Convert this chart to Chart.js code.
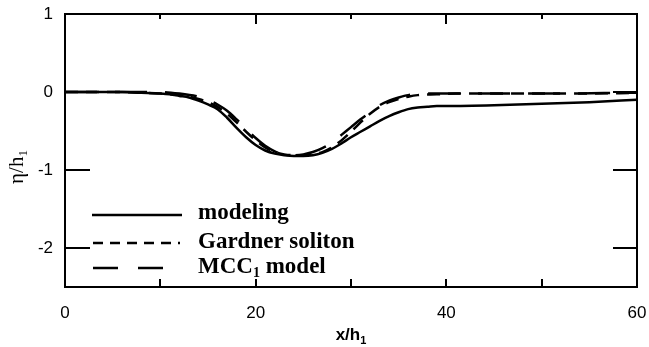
<!DOCTYPE html>
<html>
<head>
<meta charset="utf-8">
<script src="https://cdn.jsdelivr.net/npm/chart.js@4.4.1/dist/chart.umd.min.js"></script>
<style>
  html, body { margin: 0; padding: 0; background: #fff; }
  #wrap { width: 649px; height: 347px; }
</style>
</head>
<body>
<div id="wrap"><canvas id="c" width="649" height="347"></canvas></div>
<script>
// ---- data ----
const modelX = [0, 2, 4, 6, 8, 10, 11, 12, 13, 14, 15, 16, 17, 18, 19, 20, 21, 22, 23, 24, 25, 26, 27, 28, 29, 30, 31, 32, 33, 34, 35, 36, 37, 38, 39, 40, 45, 50, 55, 60];
const modelY = [0, 0, 0, 0, -0.01, -0.02, -0.03, -0.05, -0.07, -0.11, -0.16, -0.22, -0.33, -0.46, -0.58, -0.68, -0.75, -0.79, -0.81, -0.82, -0.82, -0.81, -0.78, -0.73, -0.66, -0.58, -0.51, -0.44, -0.37, -0.31, -0.26, -0.22, -0.20, -0.19, -0.18, -0.18, -0.17, -0.15, -0.13, -0.10];

const gardnerX = [0, 5, 8, 10, 12, 13, 14, 15, 16, 17, 18, 19, 20, 21, 22, 23, 24, 25, 26, 27, 28, 29, 30, 31, 32, 33, 34, 35, 36, 37, 39, 41, 44, 50, 55, 60];
const gardnerY = [0, 0, -0.01, -0.02, -0.04, -0.06, -0.09, -0.13, -0.19, -0.28, -0.39, -0.51, -0.62, -0.71, -0.77, -0.80, -0.81, -0.81, -0.80, -0.77, -0.71, -0.62, -0.51, -0.39, -0.28, -0.19, -0.13, -0.09, -0.06, -0.04, -0.03, -0.02, -0.02, -0.02, -0.02, -0.01];

const mccX = [0, 10, 12, 14, 15, 16, 17, 18, 19, 20, 21, 22, 23, 24, 25, 26, 27, 28, 29, 30, 31, 32, 33, 34, 35, 36, 37, 38, 40, 50, 60];
const mccY = [0, 0, -0.02, -0.06, -0.10, -0.16, -0.24, -0.35, -0.47, -0.59, -0.69, -0.76, -0.80, -0.81, -0.80, -0.77, -0.72, -0.65, -0.55, -0.45, -0.35, -0.26, -0.17, -0.11, -0.07, -0.04, -0.03, -0.02, -0.02, -0.02, -0.01];

const xTicks = [0, 10, 20, 30, 40, 50, 60];
const xLabelTicks = [0, 20, 40, 60];
const yTicks = [1, 0, -1, -2];
const legendLabels = ["modeling", "Gardner soliton", "MCC", " model"];

const pts = (xs, ys) => xs.map((x, i) => ({ x: x, y: ys[i] }));

const framePlugin = {
  id: 'frame',
  afterDatasetsDraw(chart) {
    const { ctx, chartArea: a, scales } = chart;
    const xs = scales.x, ys = scales.y;
    ctx.save();
    ctx.strokeStyle = '#000';
    ctx.lineWidth = 2;
    ctx.strokeRect(a.left, a.top, a.right - a.left, a.bottom - a.top);
    ctx.beginPath();
    yTicks.forEach(v => {
      if (v >= 1) return;
      const py = Math.round(ys.getPixelForValue(v));
      ctx.moveTo(a.left, py); ctx.lineTo(a.left + 25, py);
      ctx.moveTo(a.right, py); ctx.lineTo(a.right - 24, py);
    });
    xTicks.forEach(v => {
      if (v <= 0 || v >= 60) return;
      const px = Math.round(xs.getPixelForValue(v));
      ctx.moveTo(px, a.bottom); ctx.lineTo(px, a.bottom - 8);
      const tl = (v % 20 === 0) ? 10 : 5;
      ctx.moveTo(px, a.top); ctx.lineTo(px, a.top + tl);
    });
    ctx.stroke();
    ctx.restore();
  },
  afterDraw(chart) {
    const { ctx } = chart;
    ctx.save();
    ctx.fillStyle = '#000';
    ctx.strokeStyle = '#000';
    ctx.textBaseline = 'alphabetic';
    // x title
    const xf = 'bold 17px "Liberation Sans", Arial, sans-serif';
    const xfs = 'bold 11px "Liberation Sans", Arial, sans-serif';
    ctx.font = xf;
    const w1 = ctx.measureText('x/h').width;
    ctx.font = xfs;
    const w2 = ctx.measureText('1').width;
    const sx = 351 - (w1 + w2) / 2;
    ctx.font = xf;
    ctx.fillText('x/h', sx, 340);
    ctx.font = xfs;
    ctx.fillText('1', sx + w1, 344);

    // y title (rotated)
    ctx.save();
    ctx.translate(23, 167);
    ctx.rotate(-Math.PI / 2);
    const yf = '21px "Liberation Serif", "Times New Roman", serif';
    const yfs = '13px "Liberation Serif", "Times New Roman", serif';
    ctx.font = yf;
    const yw1 = ctx.measureText('η/h').width;
    ctx.font = yfs;
    const yw2 = ctx.measureText('1').width;
    const ysx = -(yw1 + yw2) / 2;
    ctx.font = yf;
    ctx.fillText('η/h', ysx, 0);
    ctx.font = yfs;
    ctx.fillText('1', ysx + yw1, 4);
    ctx.restore();

    // legend
    ctx.lineWidth = 2.5;
    ctx.beginPath();
    ctx.setLineDash([]);
    ctx.moveTo(92, 215); ctx.lineTo(182, 215);
    ctx.stroke();
    ctx.beginPath();
    ctx.setLineDash([10, 7]);
    ctx.moveTo(93, 243); ctx.lineTo(180, 243);
    ctx.stroke();
    ctx.beginPath();
    ctx.setLineDash([25, 20]);
    ctx.moveTo(93, 268); ctx.lineTo(163, 268);
    ctx.stroke();
    ctx.setLineDash([]);

    const lf = 'bold 23px "Liberation Serif", "Times New Roman", serif';
    const lfs = 'bold 14px "Liberation Serif", "Times New Roman", serif';
    ctx.font = lf;
    ctx.fillText(legendLabels[0], 198, 219);
    ctx.fillText(legendLabels[1], 198, 248);
    ctx.fillText(legendLabels[2], 198, 273);
    const mw = ctx.measureText(legendLabels[2]).width;
    ctx.font = lfs;
    ctx.fillText('1', 198 + mw, 277);
    const sw = ctx.measureText('1').width;
    ctx.font = lf;
    ctx.fillText(legendLabels[3], 198 + mw + sw, 273);
    ctx.restore();
  }
};

const tickFont = { family: '"Liberation Sans", Arial, sans-serif', size: 17 };
const zeroPad = s => { s.paddingLeft = 0; s.paddingRight = 0; s.paddingTop = 0; s.paddingBottom = 0; };

new Chart(document.getElementById('c'), {
  type: 'line',
  data: {
    datasets: [
      { label: 'modeling', data: pts(modelX, modelY), borderColor: '#000', borderWidth: 2.5, pointRadius: 0, cubicInterpolationMode: 'monotone', fill: false },
      { label: 'Gardner soliton', data: pts(gardnerX, gardnerY), borderColor: '#000', borderWidth: 2.5, borderDash: [13, 8], pointRadius: 0, cubicInterpolationMode: 'monotone', fill: false },
      { label: 'MCC1 model', data: pts(mccX, mccY), borderColor: '#000', borderWidth: 2.5, borderDash: [32, 18], pointRadius: 0, cubicInterpolationMode: 'monotone', fill: false }
    ]
  },
  options: {
    responsive: false,
    animation: false,
    events: [],
    layout: { padding: { left: 0, right: 12, top: 14, bottom: 0 } },
    plugins: { legend: { display: false }, tooltip: { enabled: false }, title: { display: false } },
    scales: {
      x: {
        type: 'linear', min: 0, max: 60,
        afterBuildTicks: s => { s.ticks = xTicks.map(v => ({ value: v })); },
        afterFit: s => { s.height = 60; zeroPad(s); },
        grid: { display: false, drawTicks: false },
        border: { display: false },
        ticks: {
          color: '#000', font: tickFont, padding: 16, maxRotation: 0, autoSkip: false,
          callback: v => xLabelTicks.includes(v) ? String(v) : ''
        }
      },
      y: {
        type: 'linear', min: -2.5, max: 1,
        afterBuildTicks: s => { s.ticks = yTicks.map(v => ({ value: v })); },
        afterFit: s => { s.width = 65; zeroPad(s); },
        grid: { display: false, drawTicks: false },
        border: { display: false },
        ticks: { color: '#000', font: tickFont, padding: 12, callback: v => String(v) }
      }
    }
  },
  plugins: [framePlugin]
});
</script>
</body>
</html>
